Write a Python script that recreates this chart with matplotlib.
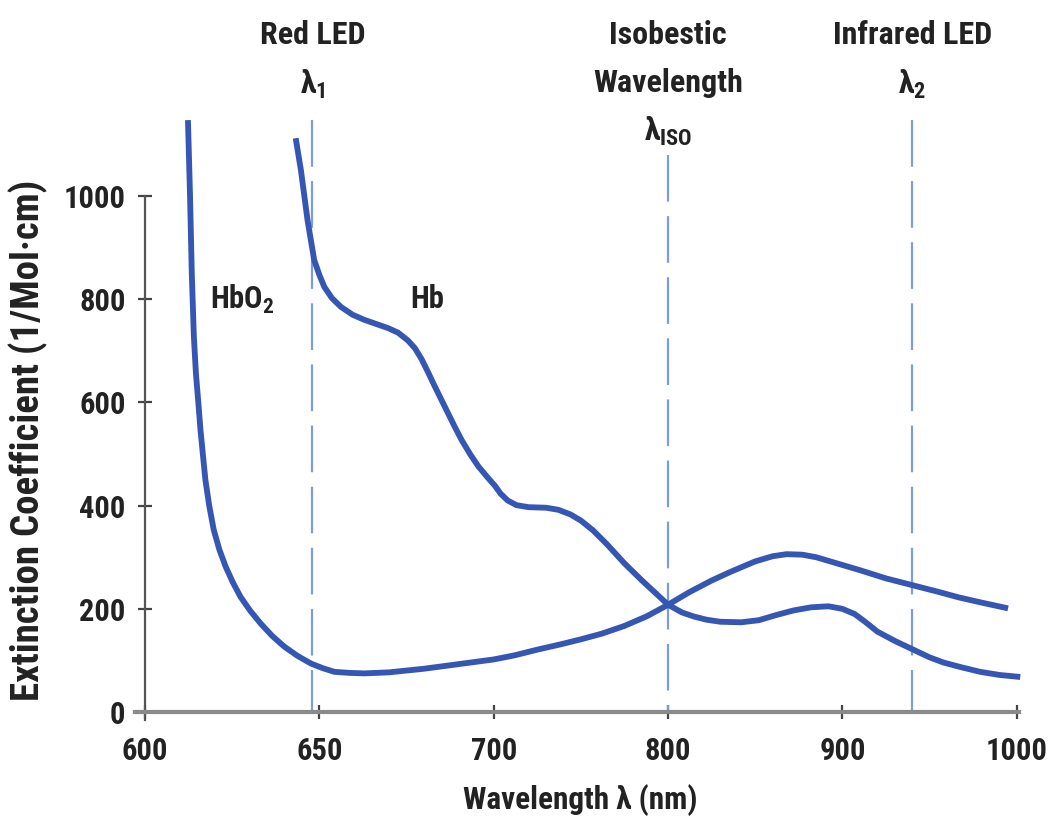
import matplotlib
matplotlib.use("Agg")
import matplotlib.pyplot as plt
import matplotlib.transforms as mtransforms
from matplotlib import font_manager as fm
import numpy as np

# ---- data ----
hbo2_wl = [612.3, 612.9, 613.4, 614, 614.6, 615.3, 615.9, 616.6, 617.3, 618.4, 619.7, 621.3, 623.1,
           625.2, 627.4, 630.2, 633.1, 636.4, 639.9, 643.7, 647.6, 651, 654.3, 658.5, 662.9,
           670, 680, 690, 700, 712, 725, 738, 750, 762, 775, 788, 800,
           812, 825, 836, 850, 860, 868, 877, 885, 897, 910, 925, 940, 955, 967, 980, 995]
hbo2_val = [1147, 1000, 850, 727, 655, 598, 546, 498, 450, 400, 353, 315, 282,
            251, 223, 196, 172, 148, 127, 109, 94, 85, 78, 76, 75,
            77, 84, 93, 102, 110, 121, 131, 141, 152, 167, 186, 208,
            232, 255, 272, 292, 302, 306, 305, 300, 288, 275, 259, 246, 233, 222, 212, 201]

hb_wl = [643.2, 644.7, 646.6, 648.5, 650, 651.4, 653.6, 656.2, 659.5, 662.9, 666.3, 669.7, 672.6,
         675.4, 677.4, 679.3, 681.2, 683.1, 685, 686.9, 688.8, 690.8, 693.2, 695.6, 698.2,
         700.8, 704, 708, 713, 720, 730, 737, 744, 750, 757, 765, 775, 785, 793, 800, 808, 815,
         822, 830, 842, 852, 862, 872, 882, 892, 900, 907, 913, 920, 930, 940, 950, 958, 968,
         979, 990, 1002]
hb_val = [1112, 1050, 953, 876, 847, 824, 802, 785, 770, 760, 752, 744, 735,
          720, 705, 684, 658, 631, 605, 579, 553, 527, 500, 476, 455,
          438, 423, 410, 401, 397, 396, 392, 383, 371, 352, 325, 288, 255, 230, 208, 193, 185,
          179, 175, 174, 178, 188, 197, 203, 205, 200, 190, 175, 156, 138, 122, 106, 96, 87,
          78, 72, 68]

x_ticks = [600, 650, 700, 800, 900, 1000]
y_ticks = [0, 200, 400, 600, 800, 1000]
led_wl = [648, 800, 940]

# ---- pick a condensed bold font if one is installed ----
names = {f.name for f in fm.fontManager.ttflist}
cands = ['Roboto Condensed', 'Liberation Sans Narrow', 'Open Sans Condensed',
         'Noto Sans Condensed', 'DejaVu Sans Condensed', 'Arial Narrow']
chosen = next((c for c in cands if c in names), None)
stretch = 'normal'
if chosen is None:
    for fam in ['DejaVu Sans', 'Noto Sans', 'Open Sans', 'Roboto']:
        hits = [f for f in fm.fontManager.ttflist if f.name == fam and
                str(f.stretch) in ('condensed', 'semi-condensed', 'extra-condensed')]
        if hits:
            chosen, stretch = fam, 'condensed'
            break
if chosen is None:
    chosen = 'Liberation Sans'

plt.rcParams['font.family'] = [chosen, 'DejaVu Sans']
plt.rcParams['font.stretch'] = stretch
plt.rcParams['font.weight'] = 'bold'
plt.rcParams['mathtext.fontset'] = 'custom'
plt.rcParams['mathtext.rm'] = chosen + ':bold'
plt.rcParams['mathtext.it'] = chosen + ':bold'
plt.rcParams['mathtext.bf'] = chosen + ':bold'

TXT = '#222222'


def fwd(x):
    x = np.asarray(x, dtype=float)
    return np.where(x < 700, (x - 600) / 50.0, 2.0 + (x - 700) / 100.0)


def inv(u):
    u = np.asarray(u, dtype=float)
    return np.where(u < 2, 600 + u * 50.0, 700 + (u - 2) * 100.0)


W, H = 1055, 838
fig = plt.figure(figsize=(W / 100, H / 100), dpi=100)
ax = fig.add_axes([134.6 / W, 0.1404, (1022 - 134.6) / W, 0.7181])
ax.set_xscale('function', functions=(fwd, inv))
ax.set_xlim(597, 1003)
ax.set_ylim(-16, 1150)

curve_color = '#3557b3'
ax.plot(hbo2_wl, hbo2_val, color=curve_color, lw=4.2, solid_capstyle='butt',
        solid_joinstyle='round', zorder=3, clip_on=False)
ax.plot(hb_wl, hb_val, color=curve_color, lw=4.2, solid_capstyle='butt',
        solid_joinstyle='round', zorder=3, clip_on=False)

dash_color = '#7c9be0'
tops = [1147, 1080, 1147]
for wl, t in zip(led_wl, tops):
    ax.plot([wl, wl], [t, 0], color=dash_color, lw=1.6, dashes=(21, 6.5), zorder=2)

for s in ['top', 'right']:
    ax.spines[s].set_visible(False)
ax.spines['left'].set_position(('data', 600))
ax.spines['left'].set_bounds(-16, 1000)
ax.spines['left'].set_color('#555555')
ax.spines['left'].set_linewidth(1.6)
ax.spines['bottom'].set_position(('data', 0))
ax.spines['bottom'].set_bounds(597, 1001)
ax.spines['bottom'].set_color('#8a8a8a')
ax.spines['bottom'].set_linewidth(3.0)

ax.set_xticks(x_ticks)
ax.set_xticklabels([str(v) for v in x_ticks])
ax.set_yticks(y_ticks)
ax.set_yticklabels([str(v) for v in y_ticks])
ax.tick_params(axis='both', direction='inout', length=10, width=1.6, color='#444444',
               labelsize=22, labelcolor=TXT)
ax.tick_params(axis='x', pad=12)
ax.tick_params(axis='y', pad=9)
ax.minorticks_off()

ax.text(628, 800, 'HbO$_2$', fontsize=22, ha='center', va='center', color=TXT)
ax.text(681, 800, 'Hb', fontsize=22, ha='center', va='center', color=TXT)

trans = mtransforms.blended_transform_factory(ax.transData, fig.transFigure)


def ftxt(x, ypix, s, fs=23):
    ax.text(x, 1 - ypix / H, s, transform=trans, fontsize=fs, ha='center', va='center',
            color=TXT, clip_on=False)


ftxt(648, 35, 'Red LED')
ftxt(648, 84, 'λ$_1$')
ftxt(800, 35, 'Isobestic')
ftxt(800, 83, 'Wavelength')
ftxt(800, 131, 'λ$_{\\mathrm{ISO}}$')
ftxt(940, 35, 'Infrared LED')
ftxt(940, 84, 'λ$_2$')

fig.text(580 / W, 1 - 800 / H, 'Wavelength λ (nm)', fontsize=22.5, ha='center', va='center',
         color=TXT)
fig.text(28 / W, 1 - 440 / H, 'Extinction Coefficient (1/Mol·cm)', fontsize=28, rotation=90,
         ha='center', va='center', color=TXT)

fig.savefig('out.png', dpi=100)
